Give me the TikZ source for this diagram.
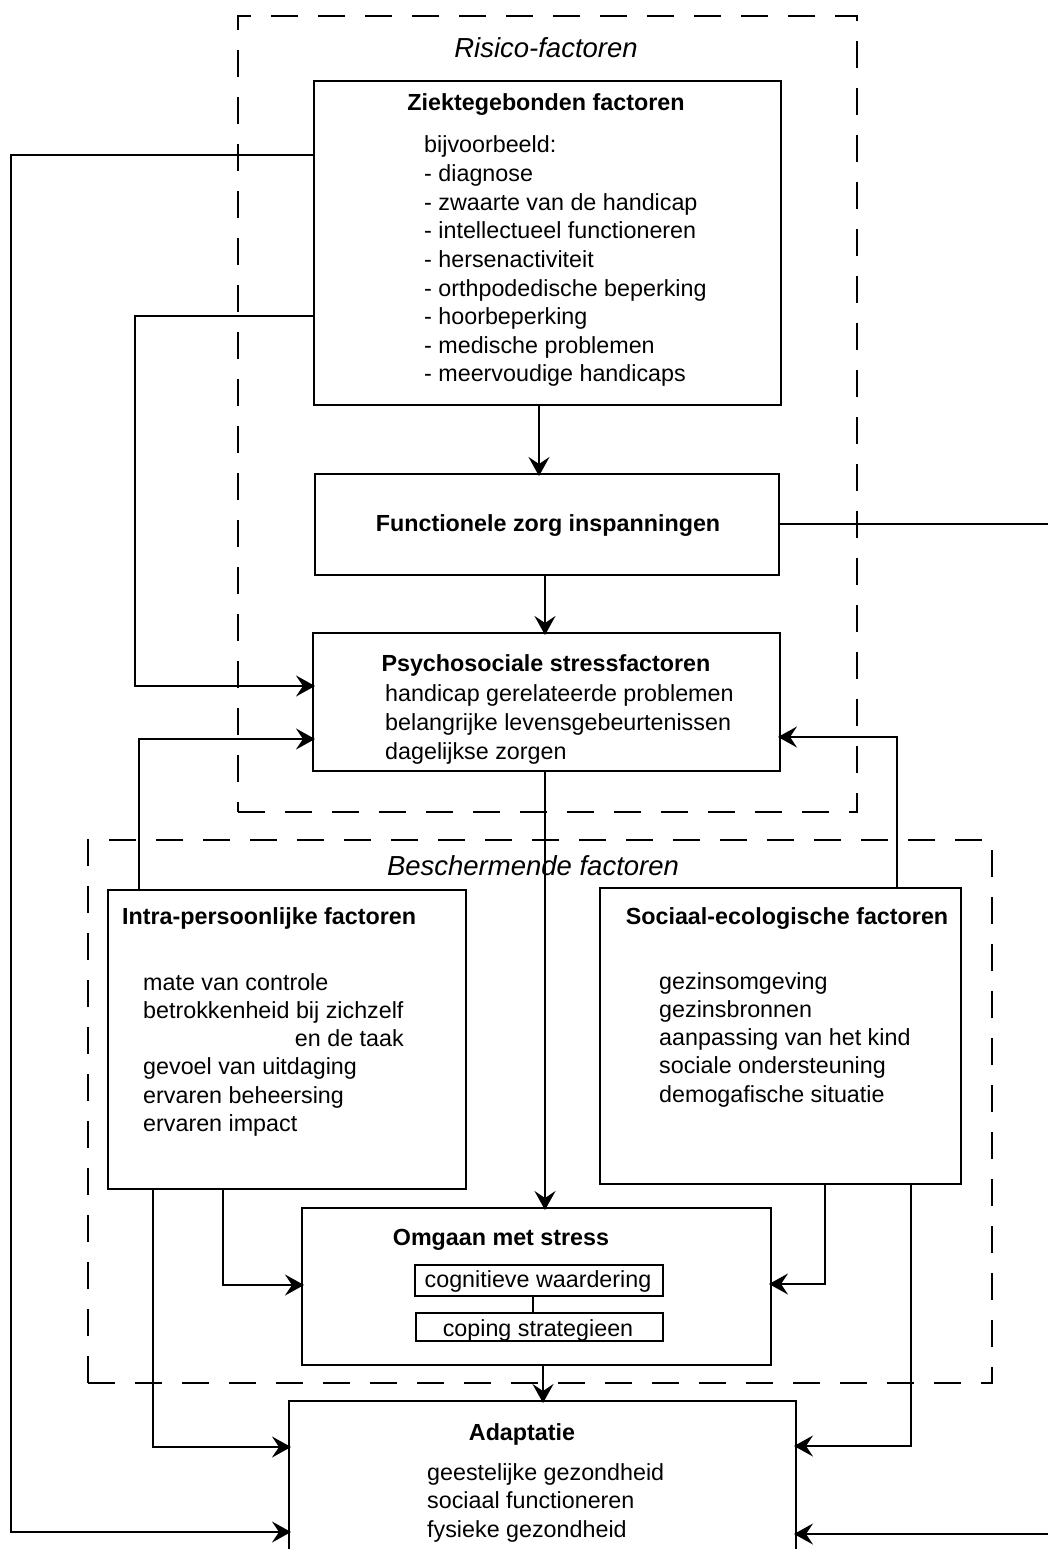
\documentclass[tikz,border=0pt]{standalone}
\usepackage{fontspec}
\setmainfont{Liberation Sans}
\usetikzlibrary{arrows.meta}
\begin{document}
\begin{tikzpicture}[x=1pt,y=-1pt,
 box/.style={draw, line width=2pt, rectangle, inner sep=0pt, anchor=north west},
 dbox/.style={draw, line width=2pt, dash pattern=on 27pt off 20pt, rectangle, inner sep=0pt, anchor=north west},
 txt/.style={inner sep=0pt, font=\fontsize{23.3}{28}\selectfont},
 ttl/.style={inner sep=0pt, font=\fontsize{23.3}{28}\selectfont\bfseries},
 grp/.style={inner sep=0pt, font=\fontsize{27.5}{32}\selectfont\itshape},
 conn/.style={line width=1.8pt},
 arr/.style={conn, arrows={-Stealth[length=19pt 0, width=21pt 0, inset=7pt 0]}, shorten >=-3pt}]
\useasboundingbox (0,0) rectangle (1048,1549);
\fill[white] (0,0) rectangle (1048,1549);
\clip (0,0) rectangle (1048,1549);

% group frames
\node[dbox, minimum width=619pt, minimum height=796pt] (risk) at (237,15) {};
\node[dbox, minimum width=904pt, minimum height=543pt] (besch) at (87,839) {};
\node[grp, anchor=base] (riskT) at (546,58) {Risico-factoren};
\node[grp, anchor=base] (beschT) at (533,875) {Beschermende factoren};

% boxes
\node[box, minimum width=467pt, minimum height=324pt] (zk) at (313,80) {};
\node[box, minimum width=464pt, minimum height=101pt] (fz) at (314,473) {};
\node[box, minimum width=467pt, minimum height=138pt] (ps) at (312,632) {};
\node[box, minimum width=358pt, minimum height=299pt] (ip) at (107,889) {};
\node[box, minimum width=361pt, minimum height=296pt] (se) at (599,887) {};
\node[box, minimum width=469pt, minimum height=157pt] (om) at (301,1207) {};
\node[box, minimum width=248pt, minimum height=31pt] (cw) at (414,1264) {};
\node[box, minimum width=247pt, minimum height=28pt] (cs) at (415,1312) {};
\node[box, minimum width=507pt, minimum height=250pt] (ad) at (288,1400) {};

% texts
\node[ttl, anchor=base] (zkT) at (546,111) {Ziektegebonden factoren};
\foreach \t [count=\i] in {bijvoorbeeld:, - diagnose, - zwaarte van de handicap, - intellectueel functioneren, - hersenactiviteit, - orthpodedische beperking, - hoorbeperking, - medische problemen, - meervoudige handicaps}
  \node[txt, anchor=base west] (zkL\i) at (424,{153+28.6*(\i-1)}) {\t};

\node[ttl, anchor=base] (fzT) at (548,531) {Functionele zorg inspanningen};

\node[ttl, anchor=base] (psT) at (546,671) {Psychosociale stressfactoren};
\foreach \t [count=\i] in {handicap gerelateerde problemen, belangrijke levensgebeurtenissen, dagelijkse zorgen}
  \node[txt, anchor=base west] (psL\i) at (385,{701+29*(\i-1)}) {\t};

\node[ttl, anchor=base west] (ipT) at (122,924) {Intra-persoonlijke factoren};
\node[txt, anchor=base west] (ipL1) at (143,990) {mate van controle};
\node[txt, anchor=base west] (ipL2) at (143,1018) {betrokkenheid bij zichzelf};
\node[txt, anchor=base east] (ipL3) at (404,1046) {en de taak};
\node[txt, anchor=base west] (ipL4) at (143,1074) {gevoel van uitdaging};
\node[txt, anchor=base west] (ipL5) at (143,1103) {ervaren beheersing};
\node[txt, anchor=base west] (ipL6) at (143,1131) {ervaren impact};

\node[ttl, anchor=base] (seT) at (787,924) {Sociaal-ecologische factoren};
\foreach \t [count=\i] in {gezinsomgeving, gezinsbronnen, aanpassing van het kind, sociale ondersteuning, demogafische situatie}
  \node[txt, anchor=base west] (seL\i) at (659,{989+28.3*(\i-1)}) {\t};

\node[ttl, anchor=base] (omT) at (501,1245) {Omgaan met stress};
\node[txt, anchor=base] (cwT) at (538,1287) {cognitieve waardering};
\node[txt, anchor=base] (csT) at (538,1336) {coping strategieen};

\node[ttl, anchor=base] (adT) at (522,1440) {Adaptatie};
\foreach \t [count=\i] in {geestelijke gezondheid, sociaal functioneren, fysieke gezondheid}
  \node[txt, anchor=base west] (adL\i) at (427,{1480+28.5*(\i-1)}) {\t};

% connectors
\draw[arr] ([yshift=-75pt]zk.north west) -| (11,1532) -- ([yshift=-132pt]ad.north west);
\draw[arr] ([yshift=-236pt]zk.north west) -| (135,686) -- ([yshift=-54pt]ps.north west);
\draw[arr] ([xshift=226pt]zk.south west) -- ([xshift=225pt]fz.north west);
\draw[arr] ([yshift=-51pt]fz.north east) -| (1062,1534) -- ([yshift=-134pt]ad.north east);
\draw[arr] ([xshift=231pt]fz.south west) -- ([xshift=233pt]ps.north west);
\draw[arr] ([xshift=233pt]ps.south west) -- ([xshift=244pt]om.north west);
\draw[arr] ([xshift=32pt]ip.north west) |- ([yshift=-107pt]ps.north west);
\draw[arr] ([xshift=298pt]se.north west) |- ([yshift=-105pt]ps.north east);
\draw[arr] ([xshift=46pt]ip.south west) |- ([yshift=-47pt]ad.north west);
\draw[arr] ([xshift=116pt]ip.south west) |- ([yshift=-78pt]om.north west);
\draw[arr] ([xshift=226pt]se.south west) |- ([yshift=-77pt]om.north east);
\draw[arr] ([xshift=312pt]se.south west) |- ([yshift=-46pt]ad.north east);
\draw[conn] ([xshift=119pt]cw.south west) -- ([xshift=118pt]cs.north west);
\draw[arr] ([xshift=242pt]om.south west) -- ([xshift=255pt]ad.north west);
\end{tikzpicture}
\end{document}
